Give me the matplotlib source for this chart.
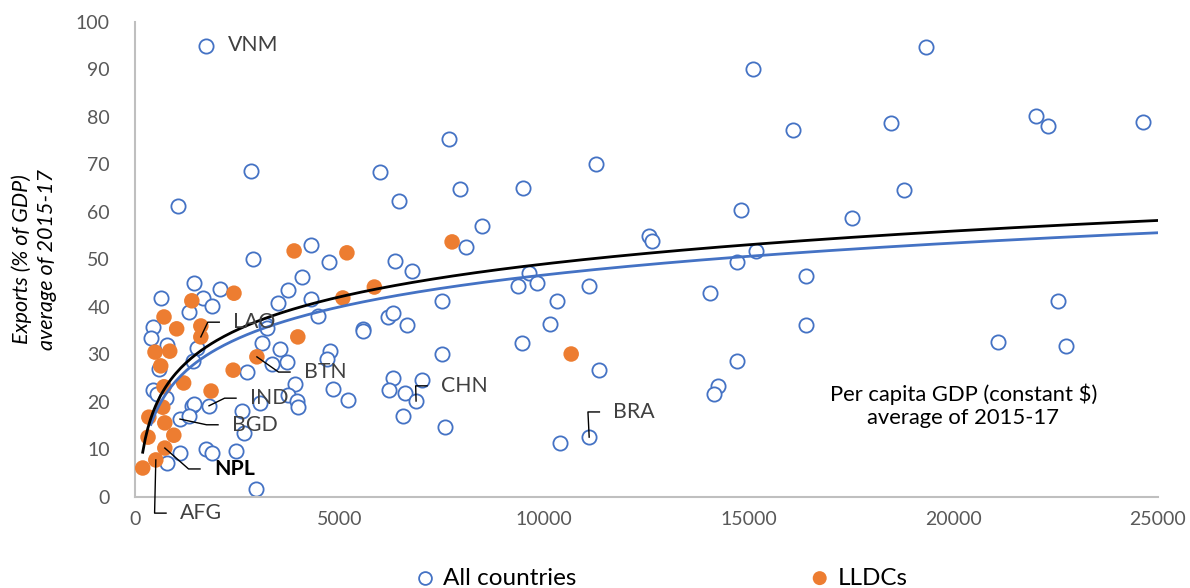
import matplotlib
matplotlib.use("Agg")
import matplotlib.pyplot as plt
import numpy as np

plt.rcParams['font.family'] = ['Lato', 'DejaVu Sans']

# ---- data: all countries (per-capita GDP, exports % GDP) ----
all_x = [1730, 19330, 15110, 16070, 18470, 22030, 22320, 24630, 18790, 17520,
         7670, 11270, 7940, 9480, 6450, 5990, 8480, 14810, 12570, 12640,
         8090, 15180, 2840, 1050, 2890, 4290, 4740, 1440, 2080, 3740,
         4080, 630, 1660, 1880, 3490, 4290, 6360, 6770, 9630, 9360,
         9820, 11100, 10310, 7500, 6180, 6310, 6650, 5570, 5580, 10140,
         9460, 7500, 11340, 4770, 4700, 6310, 7020, 6220, 6610, 6870,
         4840, 5200, 6550, 7580, 10390, 11100, 14710, 16400, 14050, 22560,
         16400, 21100, 22760, 14710, 14250, 14150, 4470, 3200, 3220, 3100,
         3540, 3350, 3710, 3910, 3740, 3960, 3980, 3050, 2950, 1320,
         440, 390, 1510, 780, 580, 1410, 440, 530, 760, 1390,
         1440, 1810, 1100, 1320, 1100, 1730, 1880, 2470, 780, 2670,
         2620, 2740]
all_y = [95.0, 94.7, 90.1, 77.2, 78.7, 80.2, 78.1, 78.9, 64.6, 58.7,
         75.4, 70.1, 64.8, 65.0, 62.3, 68.4, 57.1, 60.4, 55.0, 53.9,
         52.6, 51.8, 68.6, 61.3, 50.1, 53.0, 49.5, 45.0, 43.8, 43.6,
         46.3, 41.9, 41.9, 40.3, 40.8, 41.7, 49.7, 47.6, 47.2, 44.4,
         45.0, 44.4, 41.3, 41.3, 37.9, 38.7, 36.2, 35.3, 35.0, 36.4,
         32.4, 30.1, 26.7, 30.7, 29.1, 25.0, 24.6, 22.5, 21.9, 20.2,
         22.7, 20.4, 17.0, 14.8, 11.4, 12.6, 49.5, 46.5, 42.9, 41.3,
         36.2, 32.6, 31.8, 28.6, 23.4, 21.7, 38.1, 36.3, 35.5, 32.4,
         31.2, 28.0, 28.4, 23.8, 21.5, 20.2, 19.0, 19.8, 1.7, 38.9,
         35.8, 33.5, 31.4, 32.0, 26.9, 28.6, 22.5, 21.7, 20.8, 19.2,
         19.6, 19.2, 16.4, 17.1, 9.3, 10.1, 9.3, 9.7, 7.2, 13.5,
         18.1, 26.3]

# ---- data: LLDCs ----
lldc_x = [3890, 5180, 7750, 5850, 5080, 2420, 1390, 3980, 2980, 10660,
          710, 1020, 1610, 1610, 490, 850, 630, 1190, 710, 1860,
          340, 730, 950, 320, 730, 510, 190, 2400, 680]
lldc_y = [51.8, 51.4, 53.7, 44.2, 41.9, 42.9, 41.3, 33.7, 29.5, 30.1,
          37.9, 35.4, 36.0, 33.7, 30.5, 30.7, 27.6, 24.0, 23.2, 22.3,
          16.8, 15.6, 13.0, 12.6, 10.3, 7.8, 6.1, 26.7, 18.9]

# logarithmic trend coefficients (y = a + b ln x)
trend_all = (-42.6, 9.7)
trend_lldc = (-43.05, 10.0)

# labelled countries: name, point, text position
labels = [
    ("VNM", (1730, 95.0), (2270, 95.2), False),
    ("LAO", (1610, 33.7), (2400, 36.8), False),
    ("BTN", (2980, 29.5), (4130, 26.3), False),
    ("IND", (1810, 19.2), (2810, 20.8), False),
    ("BGD", (1100, 16.4), (2370, 15.2), False),
    ("NPL", (730, 10.3), (1930, 5.9), True),
    ("AFG", (510, 7.8), (1100, -3.4), False),
    ("CHN", (6870, 20.2), (7480, 23.4), False),
    ("BRA", (11100, 12.6), (11690, 17.9), False),
]

BLUE = '#4472C4'
ORANGE = '#ED7D31'

fig = plt.figure(figsize=(11.9, 5.88), dpi=100)
ax = fig.add_axes([0.1134, 0.1548, 0.9731 - 0.1134, 0.9626 - 0.1548])

sc1 = ax.scatter(all_x, all_y, s=105, facecolors='white', edgecolors=BLUE,
                 linewidths=1.3, zorder=2, label='All countries')
sc2 = ax.scatter(lldc_x, lldc_y, s=125, color=ORANGE, edgecolors='none',
                 zorder=3, label='LLDCs')

xa = np.linspace(min(all_x), 25000, 400)
ax.plot(xa, trend_all[0] + trend_all[1] * np.log(xa), color=BLUE, lw=2, zorder=4)
xl = np.linspace(min(lldc_x), 25000, 400)
ax.plot(xl, trend_lldc[0] + trend_lldc[1] * np.log(xl), color='black', lw=2, zorder=5)

ax.set_xlim(0, 25000)
ax.set_ylim(0, 100)
ax.set_xticks(np.arange(0, 25001, 5000))
ax.set_yticks(np.arange(0, 101, 10))
for s in ['top', 'right']:
    ax.spines[s].set_visible(False)
for s in ['left', 'bottom']:
    ax.spines[s].set_color('#BFBFBF')
    ax.spines[s].set_linewidth(1.5)
ax.tick_params(axis='y', length=0, labelsize=14, colors='#595959', pad=18)
ax.tick_params(axis='x', length=0, labelsize=14, colors='#595959', pad=10)

ax.set_ylabel("Exports (% of GDP)\naverage of 2015-17", fontsize=15.5,
              style='italic', color='black', labelpad=14, linespacing=1.3)

ax.text(20240, 19.2, "Per capita GDP (constant $)\naverage of 2015-17",
        ha='center', va='center', fontsize=15.8, color='black', linespacing=1.2)

# annotations with elbow leaders
dx_h = 280  # horizontal stub length (data units)
for name, (px, py), (tx, ty), bold in labels:
    color = 'black' if bold else '#404040'
    ax.text(tx, ty, name, ha='left', va='center', fontsize=15.3,
            fontweight='bold' if bold else 'normal', color=color,
            clip_on=False, zorder=6)
    if name == "VNM":
        continue
    ex = tx - 340
    kx = ex - dx_h
    ax.plot([px, kx, ex], [py, ty, ty], color='black', lw=1, zorder=6,
            clip_on=False)

leg = fig.legend(handles=[sc1, sc2], labels=['All countries', 'LLDCs'],
                 loc='center', bbox_to_anchor=(0.556, 0.017), ncol=2,
                 frameon=False, fontsize=17.5, handlelength=0.8,
                 handletextpad=0.35, columnspacing=9.6, borderaxespad=0,
                 markerscale=0.9)

fig.savefig('out.png', dpi=100)
